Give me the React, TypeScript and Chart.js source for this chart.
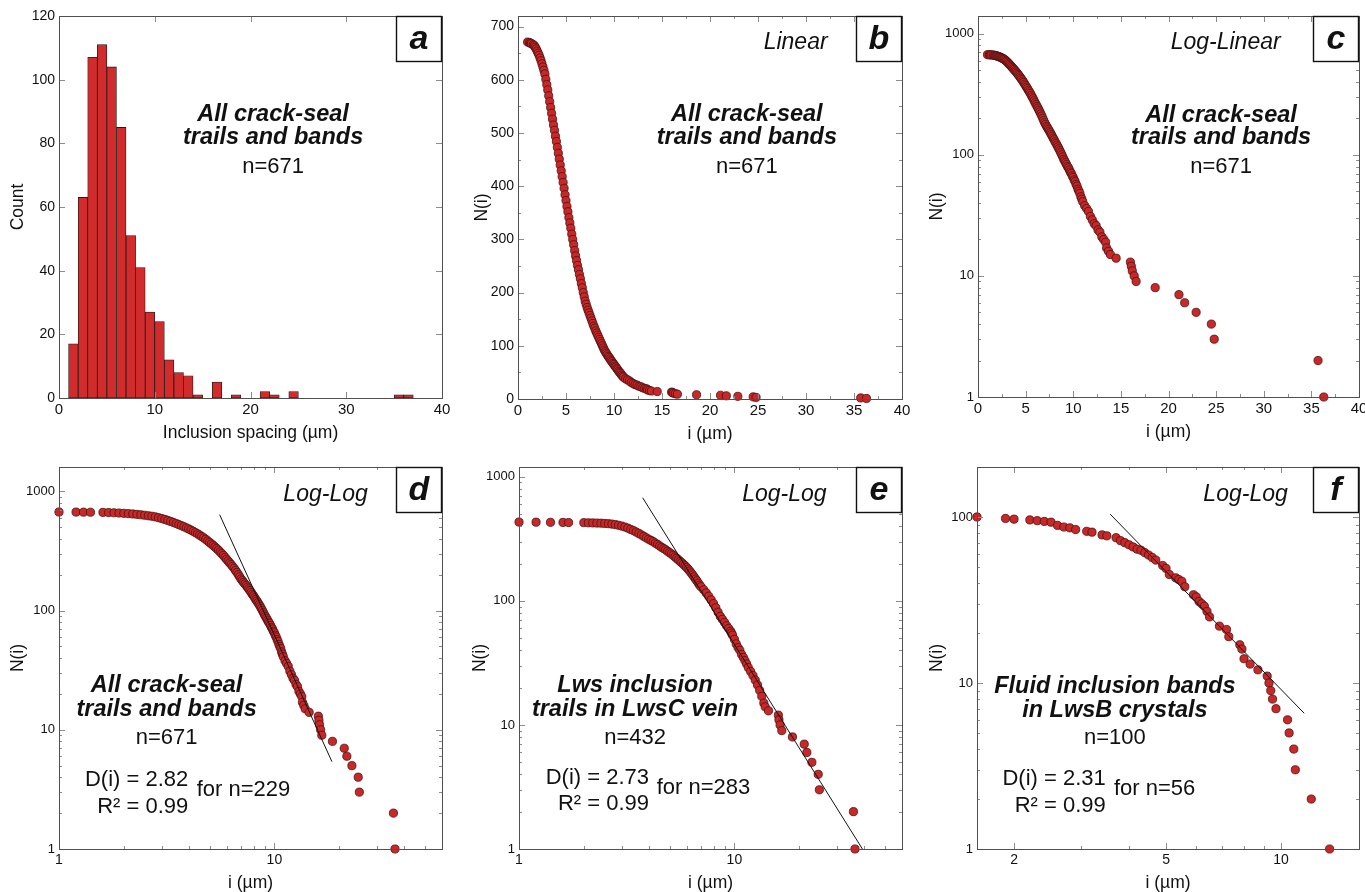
import React, { useEffect, useRef } from 'react';
import { Chart, registerables } from 'chart.js';

Chart.register(...registerables);

const F = '"Liberation Sans", Arial, Helvetica, sans-serif';

// ---------- Panel a: histogram of inclusion spacing (1 µm bins) ----------
const binLeftEdges = [1, 2, 3, 4, 5, 6, 7, 8, 9, 10, 11, 12, 13, 14, 15, 16, 17, 18, 19, 20, 21, 22, 23, 24, 25, 26, 27, 28, 29, 30, 31, 32, 33, 34, 35, 36];
const binCounts = [17, 63, 107, 111, 104, 85, 51, 41, 27, 24, 12, 8, 7, 1, 0, 5, 0, 1, 0, 0, 2, 1, 0, 2, 0, 0, 0, 0, 0, 0, 0, 0, 0, 0, 1, 1];

// ---------- All crack-seal trails and bands (n=671): cumulative N(i) ----------
const allI = [1.0, 1.2, 1.3, 1.4, 1.6, 1.7, 1.8, 1.9,
  2.0, 2.1, 2.2, 2.3, 2.4, 2.5, 2.6, 2.7, 2.8, 2.9,
  3.0, 3.1, 3.2, 3.3, 3.4, 3.5, 3.6, 3.7, 3.8, 3.9,
  4.0, 4.1, 4.2, 4.3, 4.4, 4.5, 4.6, 4.7, 4.8, 4.9,
  5.0, 5.1, 5.2, 5.3, 5.4, 5.5, 5.6, 5.7, 5.8, 5.9,
  6.0, 6.1, 6.2, 6.3, 6.4, 6.5, 6.6, 6.7, 6.8, 6.9,
  7.0, 7.1, 7.2, 7.3, 7.4, 7.5, 7.6, 7.7, 7.8, 7.9,
  8.0, 8.1, 8.2, 8.3, 8.4, 8.5, 8.6, 8.7, 8.8, 8.9,
  9.0, 9.1, 9.2, 9.3, 9.4, 9.5, 9.6, 9.7, 9.8, 9.9,
  10.0, 10.1, 10.2, 10.3, 10.4, 10.5, 10.6, 10.7, 10.8, 10.9,
  11.0, 11.2, 11.4, 11.6, 11.8, 12.0,
  12.2, 12.4, 12.6, 12.8, 13.0, 13.2, 13.4,
  13.5, 13.7, 13.9, 14.5,
  16.0, 16.1, 16.2, 16.4, 16.6,
  18.6, 21.1, 21.7, 22.9, 24.5, 24.8, 35.7, 36.3];
const allN = [671, 670, 669, 668, 666, 664, 661, 658,
  654, 650, 646, 641, 636, 630, 624, 618, 611, 601,
  591, 581, 570, 559, 548, 537, 526, 515, 505, 494,
  484, 473, 462, 451, 440, 429, 418, 407, 396, 384,
  373, 362, 352, 341, 331, 321, 310, 300, 290, 279,
  269, 260, 251, 243, 234, 226, 217, 209, 200, 192,
  184, 178, 172, 167, 162, 157, 152, 147, 142, 137,
  133, 128, 124, 120, 116, 112, 108, 104, 100, 96,
  92, 89, 86, 83, 80, 78, 75, 72, 70, 67,
  65, 62, 60, 57, 55, 52, 50, 48, 45, 43,
  41, 38, 36, 34, 31, 29,
  27, 26, 24, 23, 21, 20, 19,
  17, 16, 15, 14,
  13, 12, 11, 10, 9,
  8, 7, 6, 5, 4, 3, 2, 1];

// ---------- Lws inclusion trails in LwsC vein (n=432) ----------
const lwsI = [1.0, 1.2, 1.4, 1.6, 1.7,
  2.0, 2.1, 2.2, 2.3, 2.4, 2.5, 2.6, 2.7, 2.8, 2.9,
  3.0, 3.1, 3.2, 3.3, 3.4, 3.5, 3.6, 3.7, 3.8, 3.9,
  4.0, 4.1, 4.2, 4.3, 4.4, 4.5, 4.6, 4.7, 4.8, 4.9,
  5.0, 5.1, 5.2, 5.3, 5.4, 5.5, 5.6, 5.7, 5.8, 5.9,
  6.0, 6.1, 6.2, 6.3, 6.4, 6.5, 6.6, 6.7, 6.8, 6.9,
  7.0, 7.2, 7.4, 7.6, 7.8, 8.0, 8.2, 8.4, 8.6, 8.8, 9.0, 9.2, 9.4,
  9.6, 9.7, 9.8,
  10.0, 10.2, 10.4, 10.6, 10.8, 11.0, 11.2, 11.4, 11.6,
  11.9, 12.2, 12.5, 12.8, 13.1, 13.4, 13.7, 13.9, 14.4,
  16.0, 16.1, 16.3, 16.6,
  18.6, 21.1, 21.7, 22.9, 24.5, 24.8, 35.7, 36.3];
const lwsN = [432, 431, 430, 429, 428,
  427, 426, 425, 424, 423, 421, 419, 416, 412, 407,
  401, 394, 386, 377, 368, 359, 350, 340, 331, 322,
  314, 307, 300, 292, 285, 277, 270, 264, 258, 251,
  245, 239, 233, 226, 220, 214, 208, 203, 197, 192,
  186, 180, 174, 168, 162, 156, 150, 145, 139, 134,
  130, 123, 116, 109, 102, 95, 88, 81, 75, 71, 67, 63, 60,
  57, 55, 53,
  49, 45, 42, 40, 37, 35, 33, 31, 29,
  27, 25, 23, 21, 19, 17, 15, 14, 13,
  12, 11, 10, 9,
  8, 7, 6, 5, 4, 3, 2, 1];

// ---------- Fluid inclusion bands in LwsB crystals (n=100) ----------
const fluidI = [1.6, 1.9, 2.0, 2.2, 2.3, 2.4, 2.5, 2.6, 2.7, 2.8,
  2.9, 3.1, 3.2, 3.4, 3.5, 3.7, 3.8, 3.9, 4.0, 4.1,
  4.2, 4.3, 4.4, 4.5, 4.6, 4.7, 4.9, 5.0, 5.1, 5.3,
  5.4, 5.5, 5.6, 5.9, 6.0, 6.1, 6.2, 6.3, 6.4, 6.5,
  6.9, 7.2, 7.3, 7.8, 7.9, 8.0, 8.3, 8.7, 9.2, 9.3,
  9.4, 9.5, 9.7, 10.4, 10.5, 10.8, 10.9, 12.0, 13.4];
const fluidN = [100, 98, 97, 96, 95, 94, 93, 89, 87, 86,
  84, 82, 81, 78, 77, 75, 72, 70, 68, 66,
  64, 63, 61, 59, 57, 55, 51, 49, 45, 43,
  42, 41, 38, 34, 33, 31, 30, 29, 27, 25,
  22, 21, 19, 17, 16, 14, 13, 12, 11, 10,
  9, 8, 7, 6, 5, 4, 3, 2, 1];

// ---------- Power-law fit lines (end points) ----------
const fitAllI = [5.57, 18.5];
const fitAllN = [637, 5.4];
const fitLwsI = [3.75, 39.3];
const fitLwsN = [678, 1];
const fitFluidI = [3.57, 11.5];
const fitFluidN = [104, 6.57];

// ---------- Tick values ----------
const ticksA_X = [0, 10, 20, 30, 40];
const ticksA_Y = [0, 20, 40, 60, 80, 100, 120];
const ticksLin40 = [0, 5, 10, 15, 20, 25, 30, 35, 40];
const minorLin40 = [2.5, 7.5, 12.5, 17.5, 22.5, 27.5, 32.5, 37.5];
const ticksB_Y = [0, 100, 200, 300, 400, 500, 600, 700];
const minorB_Y = [50, 150, 250, 350, 450, 550, 650];
const ticksLogY = [1, 10, 100, 1000];
const minorLogY = [2, 3, 4, 5, 6, 7, 8, 9, 20, 30, 40, 50, 60, 70, 80, 90, 200, 300, 400, 500, 600, 700, 800, 900];
const ticksLogX = [1, 10];
const minorLogX = [2, 3, 4, 5, 6, 7, 8, 9, 20, 30, 40, 50, 60];
const ticksF_X = [2, 5, 10];
const minorF_X = [3, 4, 6, 7, 8, 9];
const ticksF_Y = [1, 10, 100];
const minorF_Y = [2, 3, 4, 5, 6, 7, 8, 9, 20, 30, 40, 50, 60, 70, 80, 90, 200];

const titleFont = `italic bold 23.5px ${F}`;
const nFont = `22px ${F}`;
const scaleFont = `italic 23px ${F}`;
const statFont = `22px ${F}`;

type TextItem = { text: string; fx: number; fy: number; font: string; align?: CanvasTextAlign };
type Decor = {
  xMajor: number[]; xMinor: number[]; yMajor: number[]; yMinor: number[];
  xTitle: string; yTitle: string; xGap: number; yGap: number;
  letter: string; texts: TextItem[];
};

function makeDecor(d: Decor) {
  return {
    id: 'decor',
    afterDraw(chart: any) {
      const ctx: CanvasRenderingContext2D = chart.ctx;
      const { left, right, top, bottom } = chart.chartArea;
      const xs = chart.scales.x;
      const ys = chart.scales.y;
      const w = right - left;
      const h = bottom - top;
      ctx.save();
      const seg = (x1: number, y1: number, x2: number, y2: number) => {
        ctx.beginPath(); ctx.moveTo(x1, y1); ctx.lineTo(x2, y2); ctx.stroke();
      };
      ctx.lineWidth = 1;
      ctx.strokeStyle = '#8c8c8c';
      const xt = (vals: number[], len: number) => vals.forEach((v) => {
        const p = Math.round(xs.getPixelForValue(v)) + 0.5;
        seg(p, bottom, p, bottom - len); seg(p, top, p, top + len);
      });
      const yt = (vals: number[], len: number) => vals.forEach((v) => {
        const p = Math.round(ys.getPixelForValue(v)) + 0.5;
        seg(left, p, left + len, p); seg(right, p, right - len, p);
      });
      xt(d.xMajor, 6); xt(d.xMinor, 3); yt(d.yMajor, 6); yt(d.yMinor, 3);
      ctx.strokeStyle = '#505050';
      ctx.strokeRect(Math.round(left) + 0.5, Math.round(top) + 0.5, Math.round(w), Math.round(h));

      ctx.fillStyle = '#111';
      ctx.textBaseline = 'middle';
      d.texts.forEach((t) => {
        ctx.font = t.font;
        ctx.textAlign = t.align || 'center';
        ctx.fillText(t.text, left + t.fx * w, top + t.fy * h);
      });

      const bw = 46, bh = 46;
      ctx.fillStyle = '#fff';
      ctx.fillRect(right - bw, top, bw, bh);
      ctx.lineWidth = 1.4;
      ctx.strokeStyle = '#111';
      ctx.strokeRect(Math.round(right - bw) + 0.5, Math.round(top) + 0.5, bw - 1, bh - 1);
      ctx.fillStyle = '#111';
      ctx.font = `italic bold 34px ${F}`;
      ctx.textAlign = 'center';
      ctx.fillText(d.letter, right - bw / 2, top + bh / 2 + 1);

      ctx.font = `17.5px ${F}`;
      ctx.fillText(d.xTitle, left + w / 2, bottom + d.xGap);
      ctx.translate(left - d.yGap, top + h / 2);
      ctx.rotate(-Math.PI / 2);
      ctx.fillText(d.yTitle, 0, 0);
      ctx.restore();
    },
  };
}

const Y_W = 40;
const X_H = 24;

function axis(type: string, min: number, max: number, major: number[], isX: boolean, fontSize: number) {
  return {
    type, min, max,
    offset: false,
    grid: { display: false, drawTicks: false },
    border: { display: false },
    ticks: {
      autoSkip: false, maxRotation: 0, minRotation: 0, padding: isX ? 3 : 4,
      color: '#111',
      font: { family: F, size: fontSize },
      callback: (v: any) => String(v),
    },
    afterBuildTicks: (s: any) => { s.ticks = major.map((v) => ({ value: v })); },
    afterFit: (s: any) => {
      if (isX) s.height = X_H; else s.width = Y_W;
      s.paddingLeft = 0; s.paddingRight = 0; s.paddingTop = 0; s.paddingBottom = 0;
    },
  };
}

const pts = (xs: number[], ys: number[]) => xs.map((x, k) => ({ x, y: ys[k] }));
const markerSet = (xs: number[], ys: number[]) => ({
  type: 'scatter', data: pts(xs, ys), pointRadius: 4.1, pointHoverRadius: 4.1,
  backgroundColor: '#c82828', borderColor: '#4a1212', borderWidth: 0.8, clip: false,
});
const fitSet = (xs: number[], ys: number[]) => ({
  type: 'line', data: pts(xs, ys), borderColor: '#111', borderWidth: 1, pointRadius: 0,
  fill: false, tension: 0, clip: false,
});

type PanelDef = { cx: number; cy: number; cw: number; ch: number; l: number; r: number; t: number; b: number; make: (pad: any) => any };

function baseOptions(pad: any, scales: any) {
  return {
    responsive: false,
    animation: false,
    events: [],
    layout: { padding: pad },
    plugins: { legend: { display: false }, tooltip: { enabled: false } },
    scales,
  };
}

const panels: PanelDef[] = [
  {
    cx: 0, cy: 0, cw: 455, ch: 446, l: 59, r: 442, t: 16, b: 398,
    make: (pad) => ({
      type: 'bar',
      data: {
        datasets: [{
          data: binLeftEdges.map((e, k) => ({ x: e + 0.5, y: binCounts[k] > 0 ? binCounts[k] : null })),
          backgroundColor: '#d22b2b', borderColor: '#1c1c1c', borderWidth: 0.8, borderSkipped: false,
          barPercentage: 1, categoryPercentage: 1,
        }],
      },
      options: baseOptions(pad, {
        x: axis('linear', 0, 40, ticksA_X, true, 15),
        y: axis('linear', 0, 120, ticksA_Y, false, 14),
      }),
      plugins: [makeDecor({
        xMajor: ticksA_X, xMinor: [], yMajor: ticksA_Y, yMinor: [],
        xTitle: 'Inclusion spacing (µm)', yTitle: 'Count', xGap: 35, yGap: 41, letter: 'a',
        texts: [
          { text: 'All crack-seal', fx: 0.559, fy: 0.259, font: titleFont },
          { text: 'trails and bands', fx: 0.559, fy: 0.319, font: titleFont },
          { text: 'n=671', fx: 0.559, fy: 0.395, font: nFont },
        ],
      })],
    }),
  },
  {
    cx: 455, cy: 0, cw: 455, ch: 446, l: 518, r: 902, t: 16, b: 399,
    make: (pad) => ({
      type: 'scatter',
      data: { datasets: [markerSet(allI, allN)] },
      options: baseOptions(pad, {
        x: axis('linear', 0, 40, ticksLin40, true, 15),
        y: axis('linear', 0, 720, ticksB_Y, false, 14),
      }),
      plugins: [makeDecor({
        xMajor: ticksLin40, xMinor: minorLin40, yMajor: ticksB_Y, yMinor: minorB_Y,
        xTitle: 'i (µm)', yTitle: 'N(i)', xGap: 35, yGap: 36, letter: 'b',
        texts: [
          { text: 'Linear', fx: 0.723, fy: 0.0705, font: scaleFont },
          { text: 'All crack-seal', fx: 0.596, fy: 0.258, font: titleFont },
          { text: 'trails and bands', fx: 0.596, fy: 0.3185, font: titleFont },
          { text: 'n=671', fx: 0.596, fy: 0.394, font: nFont },
        ],
      })],
    }),
  },
  {
    cx: 910, cy: 0, cw: 455, ch: 446, l: 978, r: 1359, t: 16, b: 397,
    make: (pad) => ({
      type: 'scatter',
      data: { datasets: [markerSet(allI, allN)] },
      options: baseOptions(pad, {
        x: axis('linear', 0, 40, ticksLin40, true, 15),
        y: axis('logarithmic', 1, 1400, ticksLogY, false, 13),
      }),
      plugins: [makeDecor({
        xMajor: ticksLin40, xMinor: minorLin40, yMajor: ticksLogY, yMinor: minorLogY,
        xTitle: 'i (µm)', yTitle: 'N(i)', xGap: 35, yGap: 41, letter: 'c',
        texts: [
          { text: 'Log-Linear', fx: 0.65, fy: 0.071, font: scaleFont },
          { text: 'All crack-seal', fx: 0.638, fy: 0.26, font: titleFont },
          { text: 'trails and bands', fx: 0.638, fy: 0.32, font: titleFont },
          { text: 'n=671', fx: 0.638, fy: 0.396, font: nFont },
        ],
      })],
    }),
  },
  {
    cx: 0, cy: 446, cw: 455, ch: 446, l: 59, r: 442, t: 467, b: 849,
    make: (pad) => ({
      type: 'scatter',
      data: { datasets: [fitSet(fitAllI, fitAllN), markerSet(allI, allN)] },
      options: baseOptions(pad, {
        x: axis('logarithmic', 1, 60, ticksLogX, true, 14),
        y: axis('logarithmic', 1, 1600, ticksLogY, false, 13),
      }),
      plugins: [makeDecor({
        xMajor: ticksLogX, xMinor: minorLogX, yMajor: ticksLogY, yMinor: minorLogY,
        xTitle: 'i (µm)', yTitle: 'N(i)', xGap: 34, yGap: 41, letter: 'd',
        texts: [
          { text: 'Log-Log', fx: 0.696, fy: 0.073, font: scaleFont },
          { text: 'All crack-seal', fx: 0.281, fy: 0.573, font: titleFont },
          { text: 'trails and bands', fx: 0.281, fy: 0.634, font: titleFont },
          { text: 'n=671', fx: 0.281, fy: 0.709, font: nFont },
          { text: 'D(i) = 2.82', fx: 0.3376, fy: 0.819, font: statFont, align: 'right' },
          { text: 'R² = 0.99', fx: 0.3376, fy: 0.889, font: statFont, align: 'right' },
          { text: 'for n=229', fx: 0.3595, fy: 0.8455, font: statFont, align: 'left' },
        ],
      })],
    }),
  },
  {
    cx: 455, cy: 446, cw: 455, ch: 446, l: 519, r: 902, t: 467, b: 849,
    make: (pad) => ({
      type: 'scatter',
      data: { datasets: [fitSet(fitLwsI, fitLwsN), markerSet(lwsI, lwsN)] },
      options: baseOptions(pad, {
        x: axis('logarithmic', 1, 60, ticksLogX, true, 14),
        y: axis('logarithmic', 1, 1200, ticksLogY, false, 13),
      }),
      plugins: [makeDecor({
        xMajor: ticksLogX, xMinor: minorLogX, yMajor: ticksLogY, yMinor: minorLogY,
        xTitle: 'i (µm)', yTitle: 'N(i)', xGap: 34, yGap: 39, letter: 'e',
        texts: [
          { text: 'Log-Log', fx: 0.693, fy: 0.073, font: scaleFont },
          { text: 'Lws inclusion', fx: 0.303, fy: 0.573, font: titleFont },
          { text: 'trails in LwsC vein', fx: 0.303, fy: 0.634, font: titleFont },
          { text: 'n=432', fx: 0.303, fy: 0.709, font: nFont },
          { text: 'D(i) = 2.73', fx: 0.3394, fy: 0.815, font: statFont, align: 'right' },
          { text: 'R² = 0.99', fx: 0.3394, fy: 0.883, font: statFont, align: 'right' },
          { text: 'for n=283', fx: 0.3595, fy: 0.841, font: statFont, align: 'left' },
        ],
      })],
    }),
  },
  {
    cx: 910, cy: 446, cw: 455, ch: 446, l: 977, r: 1359, t: 467, b: 849,
    make: (pad) => ({
      type: 'scatter',
      data: { datasets: [fitSet(fitFluidI, fitFluidN), markerSet(fluidI, fluidN)] },
      options: baseOptions(pad, {
        x: axis('logarithmic', 1.6, 16, ticksF_X, true, 14),
        y: axis('logarithmic', 1, 200, ticksF_Y, false, 13),
      }),
      plugins: [makeDecor({
        xMajor: ticksF_X, xMinor: minorF_X, yMajor: ticksF_Y, yMinor: minorF_Y,
        xTitle: 'i (µm)', yTitle: 'N(i)', xGap: 34, yGap: 40, letter: 'f',
        texts: [
          { text: 'Log-Log', fx: 0.703, fy: 0.073, font: scaleFont },
          { text: 'Fluid inclusion bands', fx: 0.361, fy: 0.575, font: titleFont },
          { text: 'in LwsB crystals', fx: 0.361, fy: 0.638, font: titleFont },
          { text: 'n=100', fx: 0.361, fy: 0.709, font: nFont },
          { text: 'D(i) = 2.31', fx: 0.337, fy: 0.8175, font: statFont, align: 'right' },
          { text: 'R² = 0.99', fx: 0.337, fy: 0.887, font: statFont, align: 'right' },
          { text: 'for n=56', fx: 0.3586, fy: 0.844, font: statFont, align: 'left' },
        ],
      })],
    }),
  },
];

function Panel({ def }: { def: PanelDef }) {
  const ref = useRef<HTMLCanvasElement | null>(null);
  useEffect(() => {
    const pad = {
      left: def.l - def.cx - Y_W,
      right: def.cx + def.cw - def.r,
      top: def.t - def.cy,
      bottom: def.cy + def.ch - def.b - X_H,
    };
    const chart = new Chart(ref.current as HTMLCanvasElement, def.make(pad));
    return () => chart.destroy();
  }, [def]);
  return (
    <canvas
      ref={ref}
      width={def.cw}
      height={def.ch}
      style={{ position: 'absolute', left: def.cx, top: def.cy, width: def.cw, height: def.ch }}
    />
  );
}

export default function App() {
  return (
    <div style={{ position: 'absolute', left: 0, top: 0, width: 1365, height: 892, background: '#fff' }}>
      {panels.map((p, k) => <Panel key={k} def={p} />)}
    </div>
  );
}
